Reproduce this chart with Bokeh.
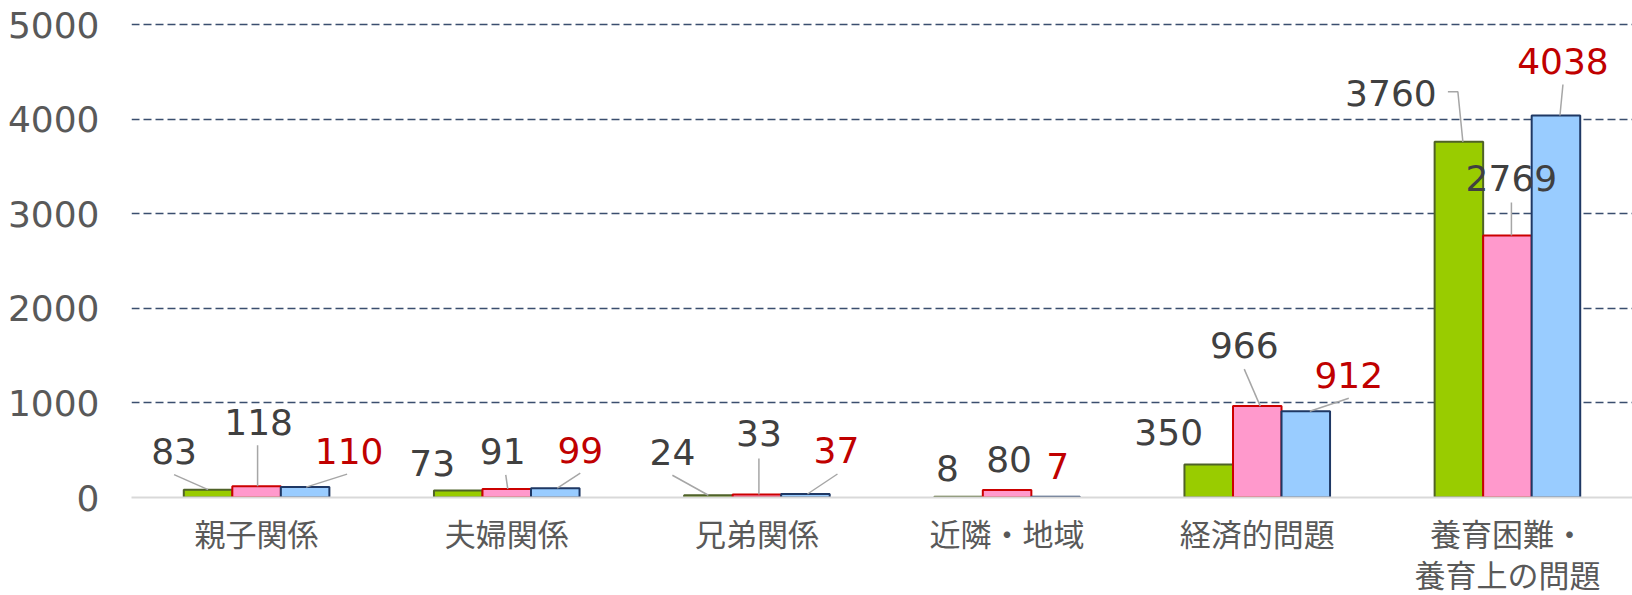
from bokeh.plotting import figure
from bokeh.models import Range1d, FixedTicker, ColumnDataSource
from bokeh.embed import file_html
from bokeh.resources import INLINE
from bokeh.core.properties import value

# ---- data ----
categories = ["親子関係", "夫婦関係", "兄弟関係", "近隣・地域", "経済的問題", "養育困難・\n養育上の問題"]
series_a = [83, 73, 24, 8, 350, 3760]      # green
series_b = [118, 91, 33, 80, 966, 2769]    # pink
series_c = [110, 99, 37, 7, 912, 4038]     # blue
y_ticks = [0, 1000, 2000, 3000, 4000, 5000]

# ---- styles ----
fills = ["#99CC00", "#FF99CC", "#99CCFF"]
borders = ["#4F6228", "#CC0000", "#1F3864"]
label_colors = ["#404040", "#404040", "#C00000"]
bar_w = 0.194
offsets = [-bar_w, 0.0, bar_w]

# label offsets (px) relative to bar-top centre: (dx, dy) with dy negative = up
label_px = [
    [(-34, -39), (-26, -28), (-36, -43), (-11, -29), (-40, -32), (-68, -49)],
    [(2, -64), (-4, -38), (2, -61), (2, -31), (-13, -61), (4, -58)],
    [(44, -36), (25, -38), (31, -44), (2, -31), (43, -36), (7, -55)],
]
# leader lines (px) relative to bar-top centre, list of points; None = no leader
leader_px = [
    [[(-34, -15), (0, 0)], None, [(-36, -20), (0, 0)], None, None,
     [(-11, -50), (-1, -50), (4, 0)]],
    [[(1, -41), (1, 0)], [(-1, -14), (1, 0)], [(2, -36), (2, 0)], None,
     [(-13, -37), (3, 0)], [(4, -33), (4, 0)]],
    [[(42, -13), (1, 0)], [(25, -15), (2, 0)], [(32, -20), (2, 0)], None,
     [(43, -13), (4, 0)], [(7, -31), (4, 0)]],
]

FW, FH = 1501, 485
x_end = 6.0
y_end = 5127
sx = FW / x_end
sy = FH / y_end

p = figure(width=1632, height=595, frame_width=FW, frame_height=FH,
           x_range=Range1d(0, x_end), y_range=Range1d(0, y_end),
           output_backend="svg", toolbar_location=None,
           min_border_left=131, min_border_right=0, min_border_top=12, min_border_bottom=98)
p.outline_line_color = None
p.background_fill_color = "white"
p.border_fill_color = "white"

# grid
p.xgrid.grid_line_color = None
p.ygrid.ticker = FixedTicker(ticks=[t for t in y_ticks if t > 0])
p.ygrid.grid_line_color = "#3A4E6E"
p.ygrid.grid_line_width = 1.6
p.ygrid.grid_line_dash = "8 4"

# y axis
p.yaxis.ticker = FixedTicker(ticks=y_ticks)
p.yaxis.axis_line_color = None
p.yaxis.major_tick_line_color = None
p.yaxis.minor_tick_line_color = None
p.yaxis.major_label_standoff = 26
p.yaxis.major_label_text_font = "DejaVu Sans"
p.yaxis.major_label_text_font_size = "36px"
p.yaxis.major_label_text_color = "#595959"

# x axis
xs_cat = [i + 0.5 for i in range(len(categories))]
p.xaxis.ticker = FixedTicker(ticks=xs_cat)
p.xaxis.major_label_overrides = {x: c for x, c in zip(xs_cat, categories)}
p.xaxis.axis_line_color = "#D9D9D9"
p.xaxis.axis_line_width = 2
p.xaxis.major_tick_line_color = None
p.xaxis.minor_tick_line_color = None
p.xaxis.major_label_standoff = 6
p.xaxis.major_label_text_font = "Noto Sans CJK JP"
p.xaxis.major_label_text_font_size = "31px"
p.xaxis.major_label_text_color = "#595959"
p.xaxis.major_label_text_line_height = 0.93

all_series = [series_a, series_b, series_c]
bar_xs = [[c + offsets[s] for c in xs_cat] for s in range(3)]

# bars first
for s, vals in enumerate(all_series):
    src = ColumnDataSource(dict(x=bar_xs[s], top=vals))
    p.vbar(x="x", top="top", bottom=0, width=bar_w, source=src,
           fill_color=fills[s], line_color=borders[s], line_width=2)

# leader lines
for s, vals in enumerate(all_series):
    mx, my = [], []
    for x, v, pts in zip(bar_xs[s], vals, leader_px[s]):
        if pts is None:
            continue
        mx.append([x + dx / sx for dx, dy in pts])
        my.append([v - dy / sy for dx, dy in pts])
    if mx:
        p.multi_line(xs=mx, ys=my, line_color="#A6A6A6", line_width=1.5)

# data labels on top
for s, vals in enumerate(all_series):
    lx = [x + dx / sx for x, (dx, dy) in zip(bar_xs[s], label_px[s])]
    ly = [v - dy / sy for v, (dx, dy) in zip(vals, label_px[s])]
    p.text(x=lx, y=ly, text=[str(v) for v in vals], text_align="center",
           text_baseline="middle", text_font=value("DejaVu Sans"),
           text_font_size="36px", text_color=label_colors[s])

open("out.html", "w").write(file_html(p, INLINE))
